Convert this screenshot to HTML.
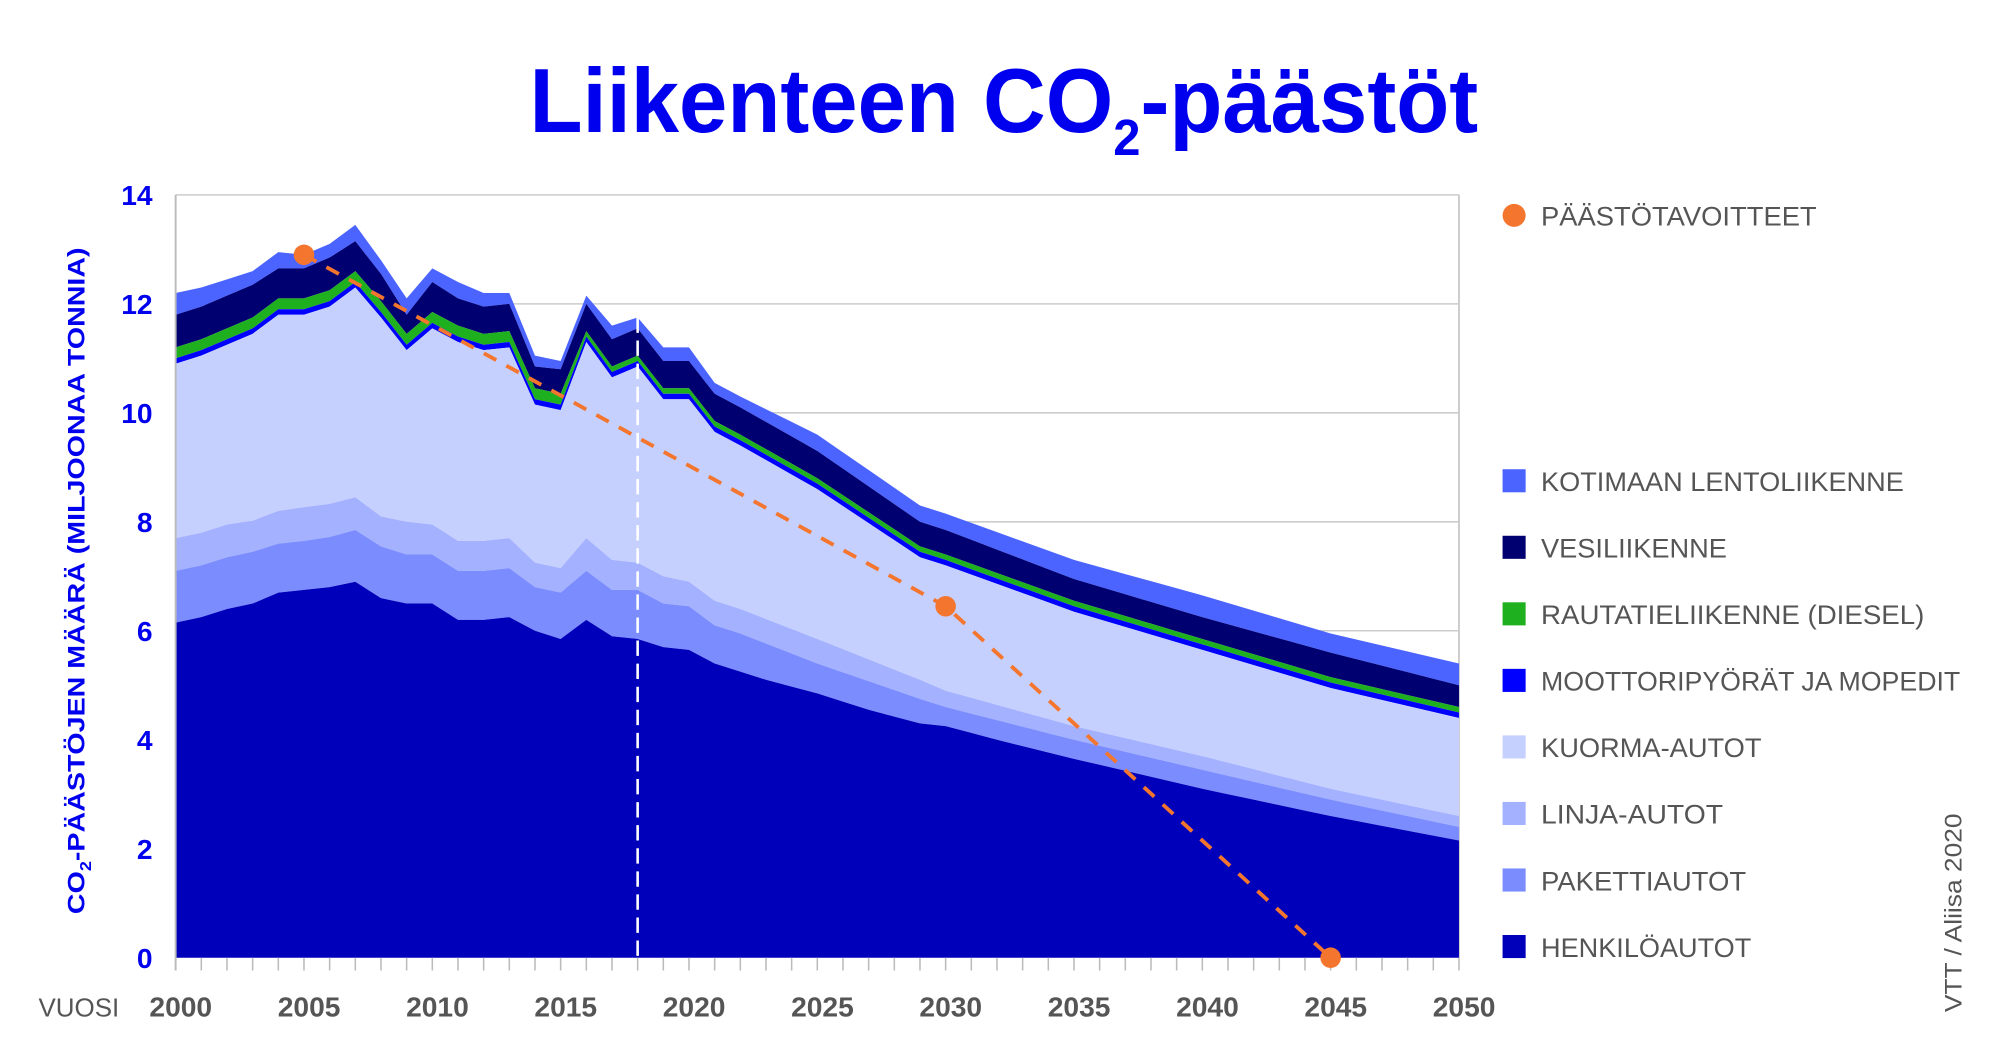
<!DOCTYPE html>
<html><head><meta charset="utf-8">
<style>
html,body{margin:0;padding:0;background:#fff;}
svg{display:block;}
text{font-family:"Liberation Sans",sans-serif;}
</style></head>
<body>
<svg id="s" width="2000" height="1050" viewBox="0 0 1560 819" preserveAspectRatio="none" xmlns="http://www.w3.org/2000/svg">
<rect width="1560" height="819" fill="#fff"/>
<g id="grid"></g>
<g id="areas"></g>
<g id="over"></g>
<text x="413" y="103" font-size="71" font-weight="bold" fill="#0000ee" textLength="740" lengthAdjust="spacingAndGlyphs">Liikenteen CO<tspan font-size="40" dy="18">2</tspan><tspan dy="-18">-päästöt</tspan></text>
<text transform="translate(66,453) rotate(-90)" text-anchor="middle" font-size="19" font-weight="bold" fill="#0000ee" textLength="520" lengthAdjust="spacingAndGlyphs">CO<tspan font-size="12" dy="5">2</tspan><tspan dy="-5">-PÄÄSTÖJEN MÄÄRÄ (MILJOONAA TONNIA)</tspan></text>
<text x="30" y="793" font-size="20" fill="#555" textLength="63" lengthAdjust="spacingAndGlyphs">VUOSI</text>
<text transform="translate(1530,712) rotate(-90)" text-anchor="middle" font-size="19" fill="#555" textLength="155" lengthAdjust="spacingAndGlyphs">VTT / Aliisa 2020</text>
<g id="legend"></g>
</svg>
<script>
var NS="http://www.w3.org/2000/svg";
function X(y){return 137+(y-2000)*20.02;}
function Y(v){return 747-v*42.5;}
function el(p,t,a,txt){var e=document.createElementNS(NS,t);for(var k in a)e.setAttribute(k,a[k]);if(txt!=null)e.textContent=txt;document.getElementById(p).appendChild(e);return e;}
function interp(kf){var out=[],ks=Object.keys(kf).map(Number).sort(function(a,b){return a-b});
for(var y=2000;y<=2050;y++){if(kf[y]!=null){out.push(kf[y]);continue;}
var i=0;while(ks[i+1]<y)i++;var a=ks[i],b=ks[i+1];out.push(kf[a]+(kf[b]-kf[a])*(y-a)/(b-a));}return out;}
var henk=interp({2000:6.15,2001:6.25,2002:6.4,2003:6.5,2004:6.7,2005:6.75,2006:6.8,2007:6.9,2008:6.6,2009:6.5,2010:6.5,2011:6.2,2012:6.2,2013:6.25,2014:6.0,2015:5.85,2016:6.2,2017:5.9,2018:5.85,2019:5.7,2020:5.65,2021:5.4,2022:5.25,2023:5.1,2025:4.85,2027:4.55,2029:4.3,2030:4.25,2032:4.0,2035:3.65,2040:3.1,2045:2.6,2050:2.15});
var pak=interp({2000:7.1,2001:7.2,2002:7.35,2003:7.45,2004:7.6,2005:7.65,2006:7.72,2007:7.85,2008:7.55,2009:7.4,2010:7.4,2011:7.1,2012:7.1,2013:7.15,2014:6.8,2015:6.7,2016:7.1,2017:6.75,2018:6.75,2019:6.5,2020:6.45,2021:6.1,2022:5.95,2025:5.4,2029:4.75,2030:4.6,2035:4.0,2040:3.45,2045:2.9,2050:2.4});
var lin=interp({2000:7.7,2001:7.8,2002:7.95,2003:8.02,2004:8.2,2005:8.27,2006:8.33,2007:8.45,2008:8.1,2009:8.0,2010:7.95,2011:7.65,2012:7.65,2013:7.7,2014:7.25,2015:7.15,2016:7.7,2017:7.3,2018:7.25,2019:7.0,2020:6.9,2021:6.55,2022:6.4,2025:5.85,2029:5.1,2030:4.9,2035:4.25,2040:3.7,2045:3.1,2050:2.6});
var kuo=interp({2000:10.9,2001:11.05,2002:11.25,2003:11.45,2004:11.8,2005:11.8,2006:11.95,2007:12.3,2008:11.75,2009:11.15,2010:11.55,2011:11.3,2012:11.15,2013:11.2,2014:10.15,2015:10.05,2016:11.3,2017:10.65,2018:10.85,2019:10.25,2020:10.25,2021:9.65,2022:9.4,2025:8.6,2029:7.35,2030:7.2,2035:6.35,2040:5.65,2045:4.95,2050:4.4});
var mop=kuo.map(function(v,i){return v+0.1;});
var rail=mop.map(function(v,i){return v+(i<16?0.2:0.1);});
var ves=interp({2000:11.8,2001:11.95,2002:12.15,2003:12.35,2004:12.65,2005:12.65,2006:12.85,2007:13.15,2008:12.55,2009:11.8,2010:12.4,2011:12.1,2012:11.95,2013:12.0,2014:10.85,2015:10.8,2016:12.0,2017:11.35,2018:11.55,2019:10.95,2020:10.95,2021:10.35,2022:10.1,2025:9.3,2029:8.0,2030:7.85,2035:6.95,2040:6.25,2045:5.6,2050:5.0});
var len=interp({2000:12.2,2001:12.3,2002:12.45,2003:12.6,2004:12.95,2005:12.9,2006:13.1,2007:13.45,2008:12.8,2009:12.1,2010:12.65,2011:12.4,2012:12.2,2013:12.2,2014:11.05,2015:10.95,2016:12.15,2017:11.6,2018:11.75,2019:11.2,2020:11.2,2021:10.55,2022:10.3,2025:9.6,2029:8.3,2030:8.15,2035:7.3,2040:6.65,2045:5.95,2050:5.4});
// grid
for(var v=2;v<=14;v+=2)el("grid","line",{x1:137,x2:1138,y1:Y(v),y2:Y(v),stroke:"#cccccc","stroke-width":1.2});
el("grid","line",{x1:1138,x2:1138,y1:Y(14),y2:747,stroke:"#cccccc","stroke-width":1.5});
function area(top,bot,c){var d="M"+X(2000)+","+Y(top[0]);for(var i=1;i<=50;i++)d+="L"+X(2000+i)+","+Y(top[i]);
for(var i=50;i>=0;i--)d+="L"+X(2000+i)+","+Y(bot?bot[i]:0);el("areas","path",{d:d+"Z",fill:c});}
area(len,ves,"#4b64ff");area(ves,rail,"#000070");area(rail,mop,"#1fb01f");area(mop,kuo,"#0000ff");
area(kuo,lin,"#c6d0ff");area(lin,pak,"#a3b1ff");area(pak,henk,"#7b8cff");area(henk,null,"#0000bb");
// axis ticks
el("over","line",{x1:137,x2:137,y1:Y(14),y2:757,stroke:"#bbbbbb","stroke-width":1.5});
for(var y=2000;y<=2050;y++)el("over","line",{x1:X(y),x2:X(y),y1:747,y2:757,stroke:"#bbbbbb","stroke-width":1.2});
// dashed 2018
el("over","line",{x1:X(2018),x2:X(2018),y1:Y(11.75),y2:747,stroke:"#fff","stroke-width":2,"stroke-dasharray":"12,6"});
// targets
el("over","polyline",{points:X(2005)+","+Y(12.9)+" "+X(2030)+","+Y(6.45)+" "+X(2045)+","+Y(0),fill:"none",stroke:"#f4762e","stroke-width":3,"stroke-dasharray":"11,9"});
[[2005,12.9],[2030,6.45],[2045,0]].forEach(function(p){el("over","circle",{cx:X(p[0]),cy:Y(p[1]),r:8,fill:"#f4762e"});});
// labels
for(var v=0;v<=14;v+=2)el("over","text",{x:119,y:Y(v)+8,"text-anchor":"end","font-size":22,"font-weight":"bold",fill:"#0000ee"},String(v));
for(var y=2000;y<=2050;y+=5)el("over","text",{x:X(y)+4,y:793,"text-anchor":"middle","font-size":22,"font-weight":"bold",fill:"#555"},String(y));
// legend
el("legend","circle",{cx:1181,cy:168,r:9,fill:"#f4762e"});
el("legend","text",{x:1202,y:176,"font-size":21,fill:"#555",textLength:"215",lengthAdjust:"spacingAndGlyphs"},"PÄÄSTÖTAVOITTEET");
var L=[["KOTIMAAN LENTOLIIKENNE","#4b64ff",283],["VESILIIKENNE","#000070",145],["RAUTATIELIIKENNE (DIESEL)","#1fb01f",299],["MOOTTORIPYÖRÄT JA MOPEDIT","#0000ff",327],["KUORMA-AUTOT","#c6d0ff",172],["LINJA-AUTOT","#a3b1ff",142],["PAKETTIAUTOT","#7b8cff",160],["HENKILÖAUTOT","#0000bb",164]];
L.forEach(function(l,i){var cy=375+i*51.9;el("legend","rect",{x:1172,y:cy-9,width:18,height:18,fill:l[1]});
el("legend","text",{x:1202,y:cy+8,"font-size":21,fill:"#555",textLength:String(l[2]),lengthAdjust:"spacingAndGlyphs"},l[0]);});
</script>
</body></html>
